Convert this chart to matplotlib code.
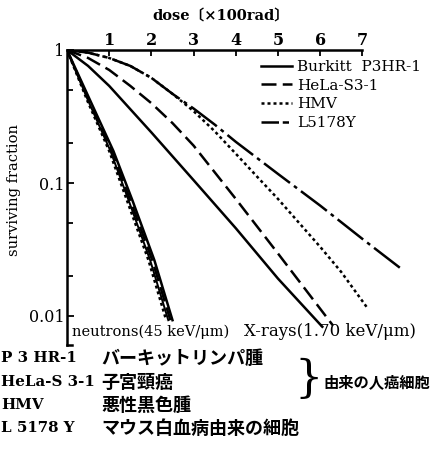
import matplotlib
matplotlib.use("Agg")
import matplotlib.pyplot as plt
from matplotlib.lines import Line2D

# --- data (dose in 100 rad, surviving fraction) ---
# X-rays
dose_burkitt = [0, 0.5, 1, 2, 3, 4, 5, 6.05]
sf_burkitt = [1, 0.759, 0.537, 0.240, 0.105, 0.0457, 0.0191, 0.0083]

dose_hela = [0, 0.5, 1, 1.5, 2, 2.5, 3, 4, 5, 6.3]
sf_hela = [1, 0.871, 0.708, 0.537, 0.398, 0.282, 0.191, 0.0759, 0.0295, 0.0085]

dose_hmv = [0, 0.5, 1, 1.5, 2, 2.5, 3, 3.5, 4, 4.5, 5, 5.5, 6, 6.5, 7.1]
sf_hmv = [1, 0.955, 0.871, 0.759, 0.617, 0.468, 0.347, 0.245, 0.166, 0.112,
          0.0759, 0.0501, 0.0331, 0.0214, 0.0117]

dose_l5178y = [0, 0.5, 1, 1.5, 2, 2.5, 3, 3.5, 4, 5, 6, 7, 7.9]
sf_l5178y = [1, 0.955, 0.871, 0.759, 0.617, 0.468, 0.363, 0.275, 0.204,
             0.117, 0.0676, 0.0380, 0.0229]

# neutrons (four nearly coincident curves)
sf_neutron = [1, 0.417, 0.174, 0.0741, 0.0263, 0.0093]
dose_n_burkitt = [0, 0.55, 1.10, 1.55, 2.07, 2.50]
dose_n_hela = [0, 0.52, 1.06, 1.50, 2.02, 2.45]
dose_n_hmv = [0, 0.48, 1.00, 1.42, 1.93, 2.35]
dose_n_l5178y = [0, 0.50, 1.03, 1.46, 1.97, 2.40]

cell_lines = ["Burkitt  P3HR-1", "HeLa-S3-1", "HMV", "L5178Y"]
x_ticks = [1, 2, 3, 4, 5, 6, 7]
y_ticks = [1, 0.1, 0.01]
y_ticklabels = ["1", "0.1", "0.01"]
y_minor = [0.5, 0.2, 0.05, 0.02]

table_codes = ["P 3 HR-1", "HeLa-S 3-1", "HMV", "L 5178 Y"]
table_names = ["バーキットリンパ腫", "子宮頸癌", "悪性黒色腫", "マウス白血病由来の細胞"]
brace_text = "由来の人癌細胞"

# --- styles ---
styles = {
    "Burkitt": dict(linestyle="-", linewidth=1.8),
    "HeLa": dict(linestyle=(0, (6, 2.5)), linewidth=1.8),
    "HMV": dict(linestyle=(0, (1.2, 1.2)), linewidth=1.8),
    "L5178Y": dict(linestyle=(0, (13, 2, 1.5, 2)), linewidth=1.8),
}
legend_styles = dict(styles)
legend_styles["L5178Y"] = dict(linestyle=(0, (7, 1.5, 2.5, 1.5)), linewidth=1.8)
serif = ["DejaVu Serif", "Noto Sans CJK JP"]
jp = ["Noto Sans CJK JP", "DejaVu Sans"]

W, H = 435, 468
fig = plt.figure(figsize=(W / 100, H / 100), dpi=100)

x0, x1 = 67, 420
ytop, ybot = 50, 345
ax = fig.add_axes([x0 / W, 1 - ybot / H, (x1 - x0) / W, (ybot - ytop) / H])
ax.set_yscale("log")
ax.set_xlim(0, (x1 - x0) / 42.2)
ax.set_ylim(10 ** (-(ybot - ytop) / 133), 1)

k = "black"
ax.plot(dose_burkitt, sf_burkitt, color=k, **styles["Burkitt"])
ax.plot(dose_hela, sf_hela, color=k, **styles["HeLa"])
ax.plot(dose_hmv, sf_hmv, color=k, **styles["HMV"])
ax.plot(dose_l5178y, sf_l5178y, color=k, **styles["L5178Y"])

ax.plot(dose_n_burkitt, sf_neutron, color=k, **styles["Burkitt"])
ax.plot(dose_n_hela, sf_neutron, color=k, **styles["HeLa"])
ax.plot(dose_n_hmv, sf_neutron, color=k, **styles["HMV"])
ax.plot(dose_n_l5178y, sf_neutron, color=k, linestyle="-", linewidth=1.4)

# axes: top x-axis, bracket-like left axis
ax.spines["right"].set_visible(False)
ax.spines["bottom"].set_visible(False)
ax.spines["top"].set_bounds(0, 7)
ax.spines["top"].set_linewidth(1.8)
ax.spines["left"].set_linewidth(1.8)
ax.plot([0, 0.12], [ax.get_ylim()[0]] * 2, color=k, lw=1.8, clip_on=False)

ax.xaxis.tick_top()
ax.set_xticks(x_ticks)
ax.set_xticklabels([str(t) for t in x_ticks], fontfamily=serif,
                   fontweight="bold", fontsize=11.5)
ax.tick_params(axis="x", direction="in", length=4, width=1.3, pad=1)

ax.set_yticks(y_ticks)
ax.set_yticklabels(y_ticklabels, fontfamily=serif, fontsize=11.5)
ax.set_yticks(y_minor, minor=True)
ax.yaxis.set_minor_formatter(plt.NullFormatter())
ax.tick_params(axis="y", which="major", direction="in", length=5, width=1.3, pad=2)
ax.tick_params(axis="y", which="minor", direction="in", length=4, width=1.3)

fig.text(221 / W, 1 - 16 / H, "dose〔×100rad〕", ha="center", va="center",
         fontfamily=serif, fontweight="bold", fontsize=10.5)
fig.text(14 / W, 1 - 190 / H, "surviving fraction", ha="center", va="center",
         rotation=90, fontfamily=serif, fontsize=10.5)

handles = [Line2D([], [], color=k, **legend_styles[s]) for s in legend_styles]
ax.legend(handles, cell_lines, loc="upper left", frameon=False,
          bbox_to_anchor=((255 - x0) / (x1 - x0), 1 - 4 / (ybot - ytop)),
          handlelength=2.0, handletextpad=0.35, labelspacing=0.3,
          prop=dict(family=serif, size=11), borderaxespad=0)

fig.text(72 / W, 1 - 332 / H, "neutrons(45 keV/μm)", va="center",
         fontfamily=serif, fontsize=10.5)
fig.text(244 / W, 1 - 332 / H, "X-rays(1.70 keV/μm)", va="center",
         fontfamily=serif, fontsize=12)

# bottom table
rows_y = [358, 382, 405, 428]
for code, name, yy in zip(table_codes, table_names, rows_y):
    fig.text(1 / W, 1 - yy / H, code, va="center", fontfamily=serif,
             fontweight="bold", fontsize=10.8)
    fig.text(101 / W, 1 - yy / H, name, va="center", fontfamily=jp,
             fontweight="bold", fontsize=13)
fig.text(294 / W, 1 - 379 / H, "}", va="center", fontfamily=serif,
         fontsize=32, fontweight="light")
fig.text(323 / W, 1 - 382 / H, brace_text, va="center", fontfamily=jp,
         fontweight="bold", fontsize=11)

fig.savefig("out.png", dpi=100)
